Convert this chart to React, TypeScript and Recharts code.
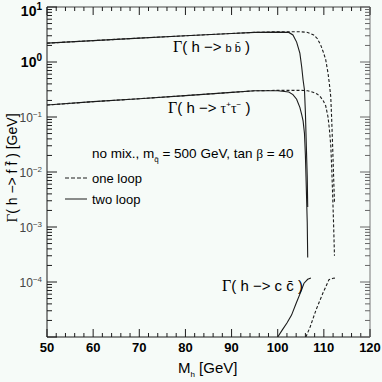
import React from 'react';
import { LineChart, Line, XAxis, YAxis } from 'recharts';

// Higgs mass grid (GeV) and widths (GeV)
const massTwoLoop = [50, 60, 70, 80, 90, 95, 100, 102.4, 103.3, 104.1, 104.8, 105.2, 105.5, 105.8, 106.0, 106.2, 106.4, 106.5];
const bbTwoLoop = [2.2, 2.45, 2.72, 3.0, 3.3, 3.45, 3.5, 3.45, 3.1, 2.3, 1.45, 0.81, 0.47, 0.31, 0.12, 0.03, 0.008, 0.0023];
const tauTwoLoop = [0.165, 0.19, 0.215, 0.245, 0.28, 0.3, 0.3, 0.285, 0.255, 0.21, 0.15, 0.11, 0.085, 0.05, 0.02, 0.005, 0.0012, 0.00028];

const massOneLoop = [50, 60, 70, 80, 90, 95, 100, 105, 106.5, 107.8, 108.6, 109.3, 109.9, 110.4, 110.9, 111.2, 111.5, 111.7, 111.9, 112.1, 112.3];
const bbOneLoop = [2.2, 2.45, 2.72, 3.0, 3.3, 3.45, 3.55, 3.55, 3.45, 3.1, 2.65, 2.05, 1.5, 1.1, 0.63, 0.4, 0.23, 0.09, 0.03, 0.009, 0.0028];
const tauOneLoop = [0.165, 0.19, 0.215, 0.245, 0.28, 0.3, 0.305, 0.305, 0.3, 0.28, 0.26, 0.23, 0.195, 0.16, 0.1, 0.06, 0.03, 0.012, 0.004, 0.0012, 0.0003];

const massCcTwoLoop = [100, 101, 102, 103, 104, 105, 105.7, 106.5, 107.2];
const ccTwoLoop = [1e-5, 1.35e-5, 1.8e-5, 2.5e-5, 4.1e-5, 6.6e-5, 9.5e-5, 1.12e-4, 1.18e-4];
const massCcOneLoop = [106.1, 107, 108.3, 109.8, 111.1, 112.0, 112.6];
const ccOneLoop = [1e-5, 1.5e-5, 3.1e-5, 6.3e-5, 1.1e-4, 1.17e-4, 1.18e-4];

const xTicks = [50, 52, 54, 56, 58, 60, 62, 64, 66, 68, 70, 72, 74, 76, 78, 80, 82, 84, 86, 88, 90, 92, 94, 96, 98, 100, 102, 104, 106, 108, 110, 112, 114, 116, 118, 120];
const decades = [-5, -4, -3, -2, -1, 0];
const mantissas = [1, 2, 3, 4, 5, 6, 7, 8, 9];
const yTicks = [...decades.flatMap(d => mantissas.map(m => m * Math.pow(10, d))), 10];

const toPoints = (xs: number[], ys: number[]) => xs.map((m, i) => ({ m, w: ys[i] }));

const W = 382;
const H = 382;
const LEFT = 47;
const RIGHT = 370;
const TOP = 7;
const BOTTOM = 337;
const INK = '#1c1c1c';
const SANS = '"Liberation Sans", Arial, Helvetica, sans-serif';
const SERIF = '"Liberation Serif", "Times New Roman", serif';

const YTick = (props: any) => {
  const { y, payload } = props;
  const v = payload.value;
  const lg = Math.log10(v);
  const e = Math.round(lg);
  const major = Math.abs(lg - e) < 1e-6;
  const len = major ? 10 : 5;
  const big = e >= 0;
  return (
    <g>
      <line x1={LEFT} x2={LEFT + len} y1={y} y2={y} stroke={INK} strokeWidth={1} />
      <line x1={RIGHT} x2={RIGHT - len} y1={y} y2={y} stroke="#666" strokeWidth={1} />
      {major && e > -5 && (
        <text
          x={LEFT - 5}
          y={y + (e === 1 ? 9 : 5)}
          textAnchor="end"
          fontFamily={SANS}
          fontSize={big ? 14 : 12}
          fontWeight={big ? 700 : 400}
          fill={big ? '#000' : '#444'}
        >
          10
          <tspan dy={big ? -6 : -5} fontSize={big ? 10 : 8}>{String(e).replace('-', '\u2212')}</tspan>
        </text>
      )}
    </g>
  );
};

const XTick = (props: any) => {
  const { x, payload } = props;
  const v = payload.value;
  const major = v % 10 === 0;
  const len = major ? 8 : 4;
  return (
    <g>
      <line x1={x} x2={x} y1={BOTTOM} y2={BOTTOM - len} stroke={INK} strokeWidth={1} />
      <line x1={x} x2={x} y1={TOP} y2={TOP + len} stroke={INK} strokeWidth={1} />
      {major && (
        <text x={x} y={BOTTOM + 15} textAnchor="middle" fontFamily={SANS} fontSize={13} fontWeight={700} fill="#000">
          {v}
        </text>
      )}
    </g>
  );
};

const series = [
  { key: 'bb2', data: toPoints(massTwoLoop, bbTwoLoop), dash: undefined },
  { key: 'tau2', data: toPoints(massTwoLoop, tauTwoLoop), dash: undefined },
  { key: 'cc2', data: toPoints(massCcTwoLoop, ccTwoLoop), dash: undefined },
  { key: 'bb1', data: toPoints(massOneLoop, bbOneLoop), dash: '3 2' },
  { key: 'tau1', data: toPoints(massOneLoop, tauOneLoop), dash: '3 2' },
  { key: 'cc1', data: toPoints(massCcOneLoop, ccOneLoop), dash: '3 2' },
];

const App: React.FC = () => {
  return (
    <div style={{ position: 'absolute', left: 0, top: 0, width: W, height: H, background: '#f6fbf8' }}>
      <LineChart
        width={W}
        height={H}
        margin={{ top: TOP - 1, right: W - RIGHT - 1, bottom: H - BOTTOM - 1, left: LEFT - 1 }}
      >
        <XAxis
          xAxisId="b"
          type="number"
          dataKey="m"
          domain={[50, 120]}
          allowDataOverflow
          ticks={xTicks}
          interval={0}
          height={1}
          tickLine={false}
          axisLine={{ stroke: INK }}
          tick={(p: any) => <XTick {...p} />}
        />
        <XAxis xAxisId="t" orientation="top" type="number" domain={[50, 120]} height={1} tick={false} tickLine={false} axisLine={{ stroke: '#444' }} />
        <YAxis
          yAxisId="l"
          type="number"
          scale="log"
          domain={[1e-5, 10]}
          allowDataOverflow
          ticks={yTicks}
          interval={0}
          width={1}
          tickLine={false}
          axisLine={{ stroke: INK }}
          tick={(p: any) => <YTick {...p} />}
        />
        <YAxis yAxisId="r" orientation="right" type="number" scale="log" domain={[1e-5, 10]} width={1} tick={false} tickLine={false} axisLine={{ stroke: '#777' }} />
        {series.map(s => (
          <Line
            key={s.key}
            xAxisId="b"
            yAxisId="l"
            data={s.data}
            dataKey="w"
            type="linear"
            stroke={INK}
            strokeWidth={1.1}
            strokeDasharray={s.dash}
            dot={false}
            activeDot={false}
            isAnimationActive={false}
          />
        ))}
      </LineChart>
      <svg width={W} height={H} style={{ position: 'absolute', left: 0, top: 0, pointerEvents: 'none' }}>
        <g fontFamily={SANS} fill="#000">
          <text x={173} y={52} fontSize={15}>
            <tspan fontFamily={SERIF} fontSize={16}>Γ</tspan>( h −&gt; <tspan fontSize={11}>b b̄</tspan> )
          </text>
          <text x={168} y={113} fontSize={15}>
            <tspan fontFamily={SERIF} fontSize={16}>Γ</tspan>( h −&gt; <tspan fontFamily={SERIF} fontSize={14}>τ</tspan>
            <tspan fontSize={8} dy={-6}>+</tspan>
            <tspan fontFamily={SERIF} fontSize={14} dy={6}>τ</tspan>
            <tspan fontSize={8} dy={-6}>−</tspan>
            <tspan dy={6}> )</tspan>
          </text>
          <text x={92} y={158} fontSize={13.5}>
            no mix., m<tspan fontSize={8} dy={4}>q̃</tspan><tspan dy={-4}> = 500 GeV, tan </tspan>
            <tspan fontFamily={SERIF}>β</tspan> = 40
          </text>
          <line x1={65} x2={87} y1={178} y2={178} stroke={INK} strokeDasharray="4 2" />
          <text x={92} y={183} fontSize={13}>one loop</text>
          <line x1={65} x2={87} y1={199} y2={199} stroke={INK} />
          <text x={92} y={204} fontSize={13}>two loop</text>
          <text x={222} y={291} fontSize={15}>
            <tspan fontFamily={SERIF} fontSize={16}>Γ</tspan>( h −&gt; c c̄ )
          </text>
          <text x={178} y={373} fontSize={15}>
            M<tspan fontSize={8} dy={4}>h</tspan><tspan dy={-4}> [GeV]</tspan>
          </text>
          <text x={0} y={0} fontSize={14} textAnchor="middle" transform="translate(17 168) rotate(-90)">
            <tspan fontFamily={SERIF} fontSize={15}>Γ</tspan>( h −&gt; f f̄ ) [GeV]
          </text>
        </g>
      </svg>
    </div>
  );
};

export default App;
